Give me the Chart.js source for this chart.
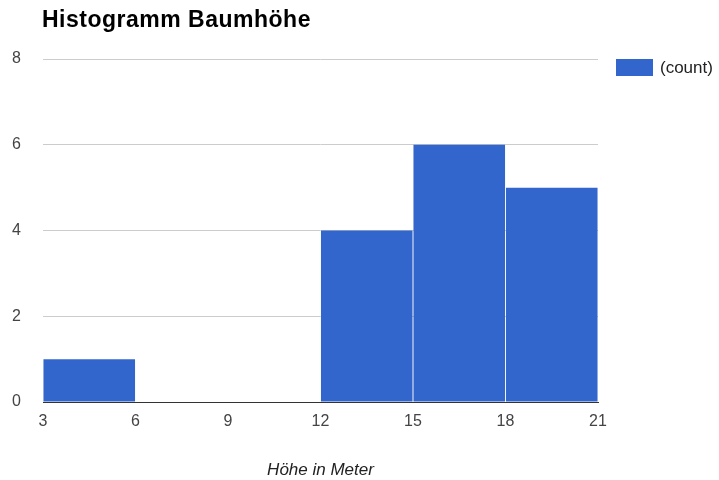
<!DOCTYPE html>
<html><head><meta charset="utf-8">
<script src="https://cdn.jsdelivr.net/npm/chart.js@4/dist/chart.umd.min.js"></script>
<style>html,body{margin:0;padding:0;background:#fff}#wrap{width:719px;height:480px}</style>
</head><body><div id="wrap"><canvas id="c" width="719" height="480"></canvas></div>
<script>
const chartTitle = "Histogramm Baumhöhe";
const xAxisTitle = "Höhe in Meter";
const seriesName = "(count)";
const binStarts = [3, 6, 9, 12, 15, 18];
const binWidth = 3;
const counts = [1, 0, 0, 4, 6, 5];
const xTicks = [3, 6, 9, 12, 15, 18, 21];
const yTicks = [0, 2, 4, 6, 8];
const barColor = "#3366cc";
const FONT = '"Liberation Sans", Arial, sans-serif';

const data = binStarts.map((s, i) => ({ x: s + binWidth / 2, y: counts[i] }));

const overlay = {
  id: 'overlay',
  afterDraw(chart) {
    const ctx = chart.ctx, a = chart.chartArea;
    ctx.save();
    ctx.fillStyle = '#000';
    ctx.font = 'bold 23px ' + FONT;
    ctx.textBaseline = 'alphabetic';
    ctx.textAlign = 'left';
    try { ctx.letterSpacing = '0.5px'; } catch (e) {}
    ctx.fillText(chartTitle, 42, 27);
    try { ctx.letterSpacing = '0px'; } catch (e) {}
    // legend
    ctx.fillStyle = barColor;
    ctx.fillRect(616, 59, 37, 17);
    ctx.fillStyle = '#222';
    ctx.font = '17px ' + FONT;
    ctx.textBaseline = 'middle';
    ctx.fillText(seriesName, 660, 68);
    // x axis title
    ctx.font = 'italic 17px ' + FONT;
    ctx.textAlign = 'center';
    ctx.fillStyle = '#222';
    ctx.fillText(xAxisTitle, (a.left + a.right) / 2, 470);
    ctx.restore();
  }
};

new Chart(document.getElementById('c'), {
  type: 'bar',
  data: { datasets: [{ label: seriesName, data, backgroundColor: barColor, borderWidth: 0,
    barPercentage: 0.99, categoryPercentage: 1 }] },
  options: {
    responsive: false, animation: false,
    layout: { padding: { top: 59, right: 121, left: 0, bottom: 0 } },
    plugins: { legend: { display: false }, title: { display: false }, tooltip: { enabled: false } },
    scales: {
      x: {
        type: 'linear', min: 3, max: 21, offset: false,
        afterBuildTicks(s) { s.ticks = xTicks.map(v => ({ value: v })); },
        afterFit(s) { s.height = 78; },
        grid: { display: false, drawTicks: false },
        border: { display: true, color: '#333', width: 1 },
        ticks: { color: '#444', padding: 10, font: { size: 16, family: FONT }, maxRotation: 0 }
      },
      y: {
        min: 0, max: 8,
        afterBuildTicks(s) { s.ticks = yTicks.map(v => ({ value: v })); },
        afterFit(s) { s.width = 43; },
        grid: { color: '#cccccc', drawTicks: false },
        border: { display: false },
        ticks: { color: '#444', padding: 22, font: { size: 16, family: FONT } }
      }
    }
  },
  plugins: [overlay]
});
</script></body></html>
